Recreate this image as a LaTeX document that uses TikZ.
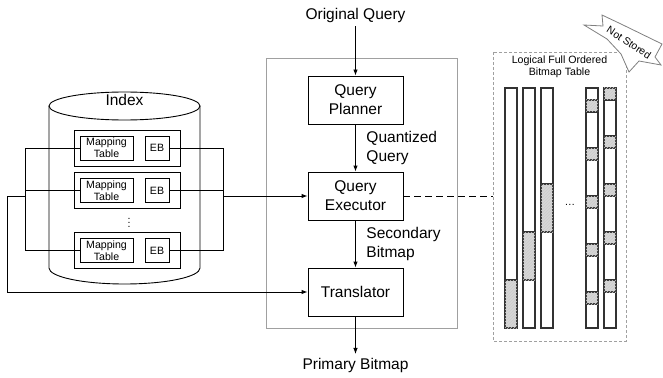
\documentclass[tikz,border=0pt]{standalone}
\usepackage{fontspec}
\setmainfont{Liberation Sans}
\usetikzlibrary{arrows.meta,patterns}
\definecolor{shadecol}{RGB}{214,214,214}
\definecolor{barcol}{RGB}{50,50,50}
\definecolor{framecol}{RGB}{160,160,160}
\newcommand\bigtxt{\fontsize{15.5}{19}\selectfont}
\newcommand\smalltxt{\fontsize{10.6}{12}\selectfont}
\begin{document}
\begin{tikzpicture}[x=1pt,y=-1pt,line width=0.9pt,
  >={Latex[length=6pt,width=4.5pt]},
  proc/.style={draw,minimum width=95pt,minimum height=48pt,font=\bigtxt,align=center,inner sep=0pt},
  grp/.style={draw,minimum width=106pt,minimum height=36pt,inner sep=0pt},
  mtab/.style={draw,minimum width=53pt,minimum height=24pt,font=\smalltxt,align=center,inner sep=0pt},
  ebox/.style={draw,minimum width=24pt,minimum height=24pt,font=\smalltxt,inner sep=0pt},
  lbl/.style={font=\bigtxt,align=left,anchor=west,inner sep=0pt},
  bar/.style={draw=barcol,fill=white,line width=1.2pt},
  shaded/.style={draw=barcol,fill=shadecol,line width=1.2pt,postaction={pattern=north east lines,pattern color=black!20}},
  gframe/.style={draw=framecol,line width=0.8pt},
  dframe/.style={draw=framecol,line width=0.8pt,dash pattern=on 3pt off 2pt}]
\useasboundingbox (0,0) rectangle (663,377);

% central frame
\draw[gframe] (266,58) rectangle (457,328);

% process nodes
\node[font=\bigtxt] (orig) at (355.5,15) {Original Query};
\node[proc] (planner) at (355.5,100) {Query\\Planner};
\node[proc] (exec) at (355.5,196) {Query\\Executor};
\node[proc] (trans) at (355.5,292) {Translator};
\node[font=\bigtxt] (prim) at (355.5,365) {Primary Bitmap};
\node[lbl] (qq) at (366,147.5) {Quantized\\Query};
\node[lbl] (sb) at (366,243.5) {Secondary\\Bitmap};

\draw[->] (orig) -- (planner);
\draw[->] (planner) -- (exec);
\draw[->] (exec) -- (trans);
\draw[->] (trans) -- (prim);

% cylinder
\draw (49,106) -- (49,268) arc[start angle=180,end angle=0,x radius=75.5,y radius=16] -- (200,106);
\draw (124.5,106) ellipse[x radius=75.5,y radius=14];
\node[font=\bigtxt] (idx) at (124.5,100) {Index};

% groups
\node[grp] (g1) at (127,148) {};
\node[grp] (g2) at (127,190.5) {};
\node[grp] (g3) at (127,250.5) {};
\node[mtab] (m1) at (106.5,148) {Mapping\\Table};
\node[mtab] (m2) at (106.5,190.5) {Mapping\\Table};
\node[mtab] (m3) at (106.5,250.5) {Mapping\\Table};
\node[ebox] (e1) at (157,148) {EB};
\node[ebox] (e2) at (157,190.5) {EB};
\node[ebox] (e3) at (157,250.5) {EB};
\node[font=\smalltxt,inner sep=0pt] (vd) at (129,220) {$\vdots$};

% connectors on the left
\coordinate (lx) at (25,196);
\coordinate (rx) at (223,196);
\coordinate (ll) at (7,196);
\draw (m1.west) -- (m1.west -| lx) -- (m3.west -| lx) -- (m3.west);
\draw (m2.west) -- (m2.west -| lx);
\draw (lx) -- (ll) -- (ll |- trans.west);
\draw[->] (ll |- trans.west) -- (trans.west);
\draw (e1.east) -- (e1.east -| rx) -- (e3.east -| rx) -- (e3.east);
\draw (e2.east) -- (e2.east -| rx);
\draw[->] (rx) -- (exec.west);

% dashed link to logical table
\coordinate (dl) at (493,196);
\draw[dash pattern=on 7pt off 4pt] (exec.east) -- (dl);

% logical table frame
\draw[dframe] (493,52) rectangle (626,341);
\node[font=\smalltxt,align=center] (ltitle) at (559.5,67) {Logical Full Ordered\\Bitmap Table};

% bars
\draw[bar] (505,88) rectangle (517,328);
\draw[shaded] (505,280) rectangle (517,328);
\draw[bar] (523,88) rectangle (535,328);
\draw[shaded] (523,232) rectangle (535,280);
\draw[bar] (541,88) rectangle (553,328);
\draw[shaded] (541,184) rectangle (553,232);
\draw[bar] (586,88) rectangle (598,328);
\foreach \a in {100,148,196,244,292} {\draw[shaded] (586,\a) rectangle (598,\a+12);}
\draw[bar] (604,88) rectangle (616,328);
\foreach \a in {88,136,184,232,280} {\draw[shaded] (604,\a) rectangle (616,\a+12);}
\node[font=\smalltxt] (dots) at (570,205) {\ldots};

% not stored star
\draw[draw=framecol!80!black,fill=white,line width=0.8pt] (602,15) -- (621,24) -- (662,44) -- (655,57) -- (661,65) -- (639,61) -- (629,72) -- (621,54) -- (607,39) -- (584,25) -- (603,26) -- cycle;
\node[font=\fontsize{10.5}{12}\selectfont,rotate=-33,inner sep=0pt] (ns) at (629,42.5) {Not Stored};
\end{tikzpicture}
\end{document}
